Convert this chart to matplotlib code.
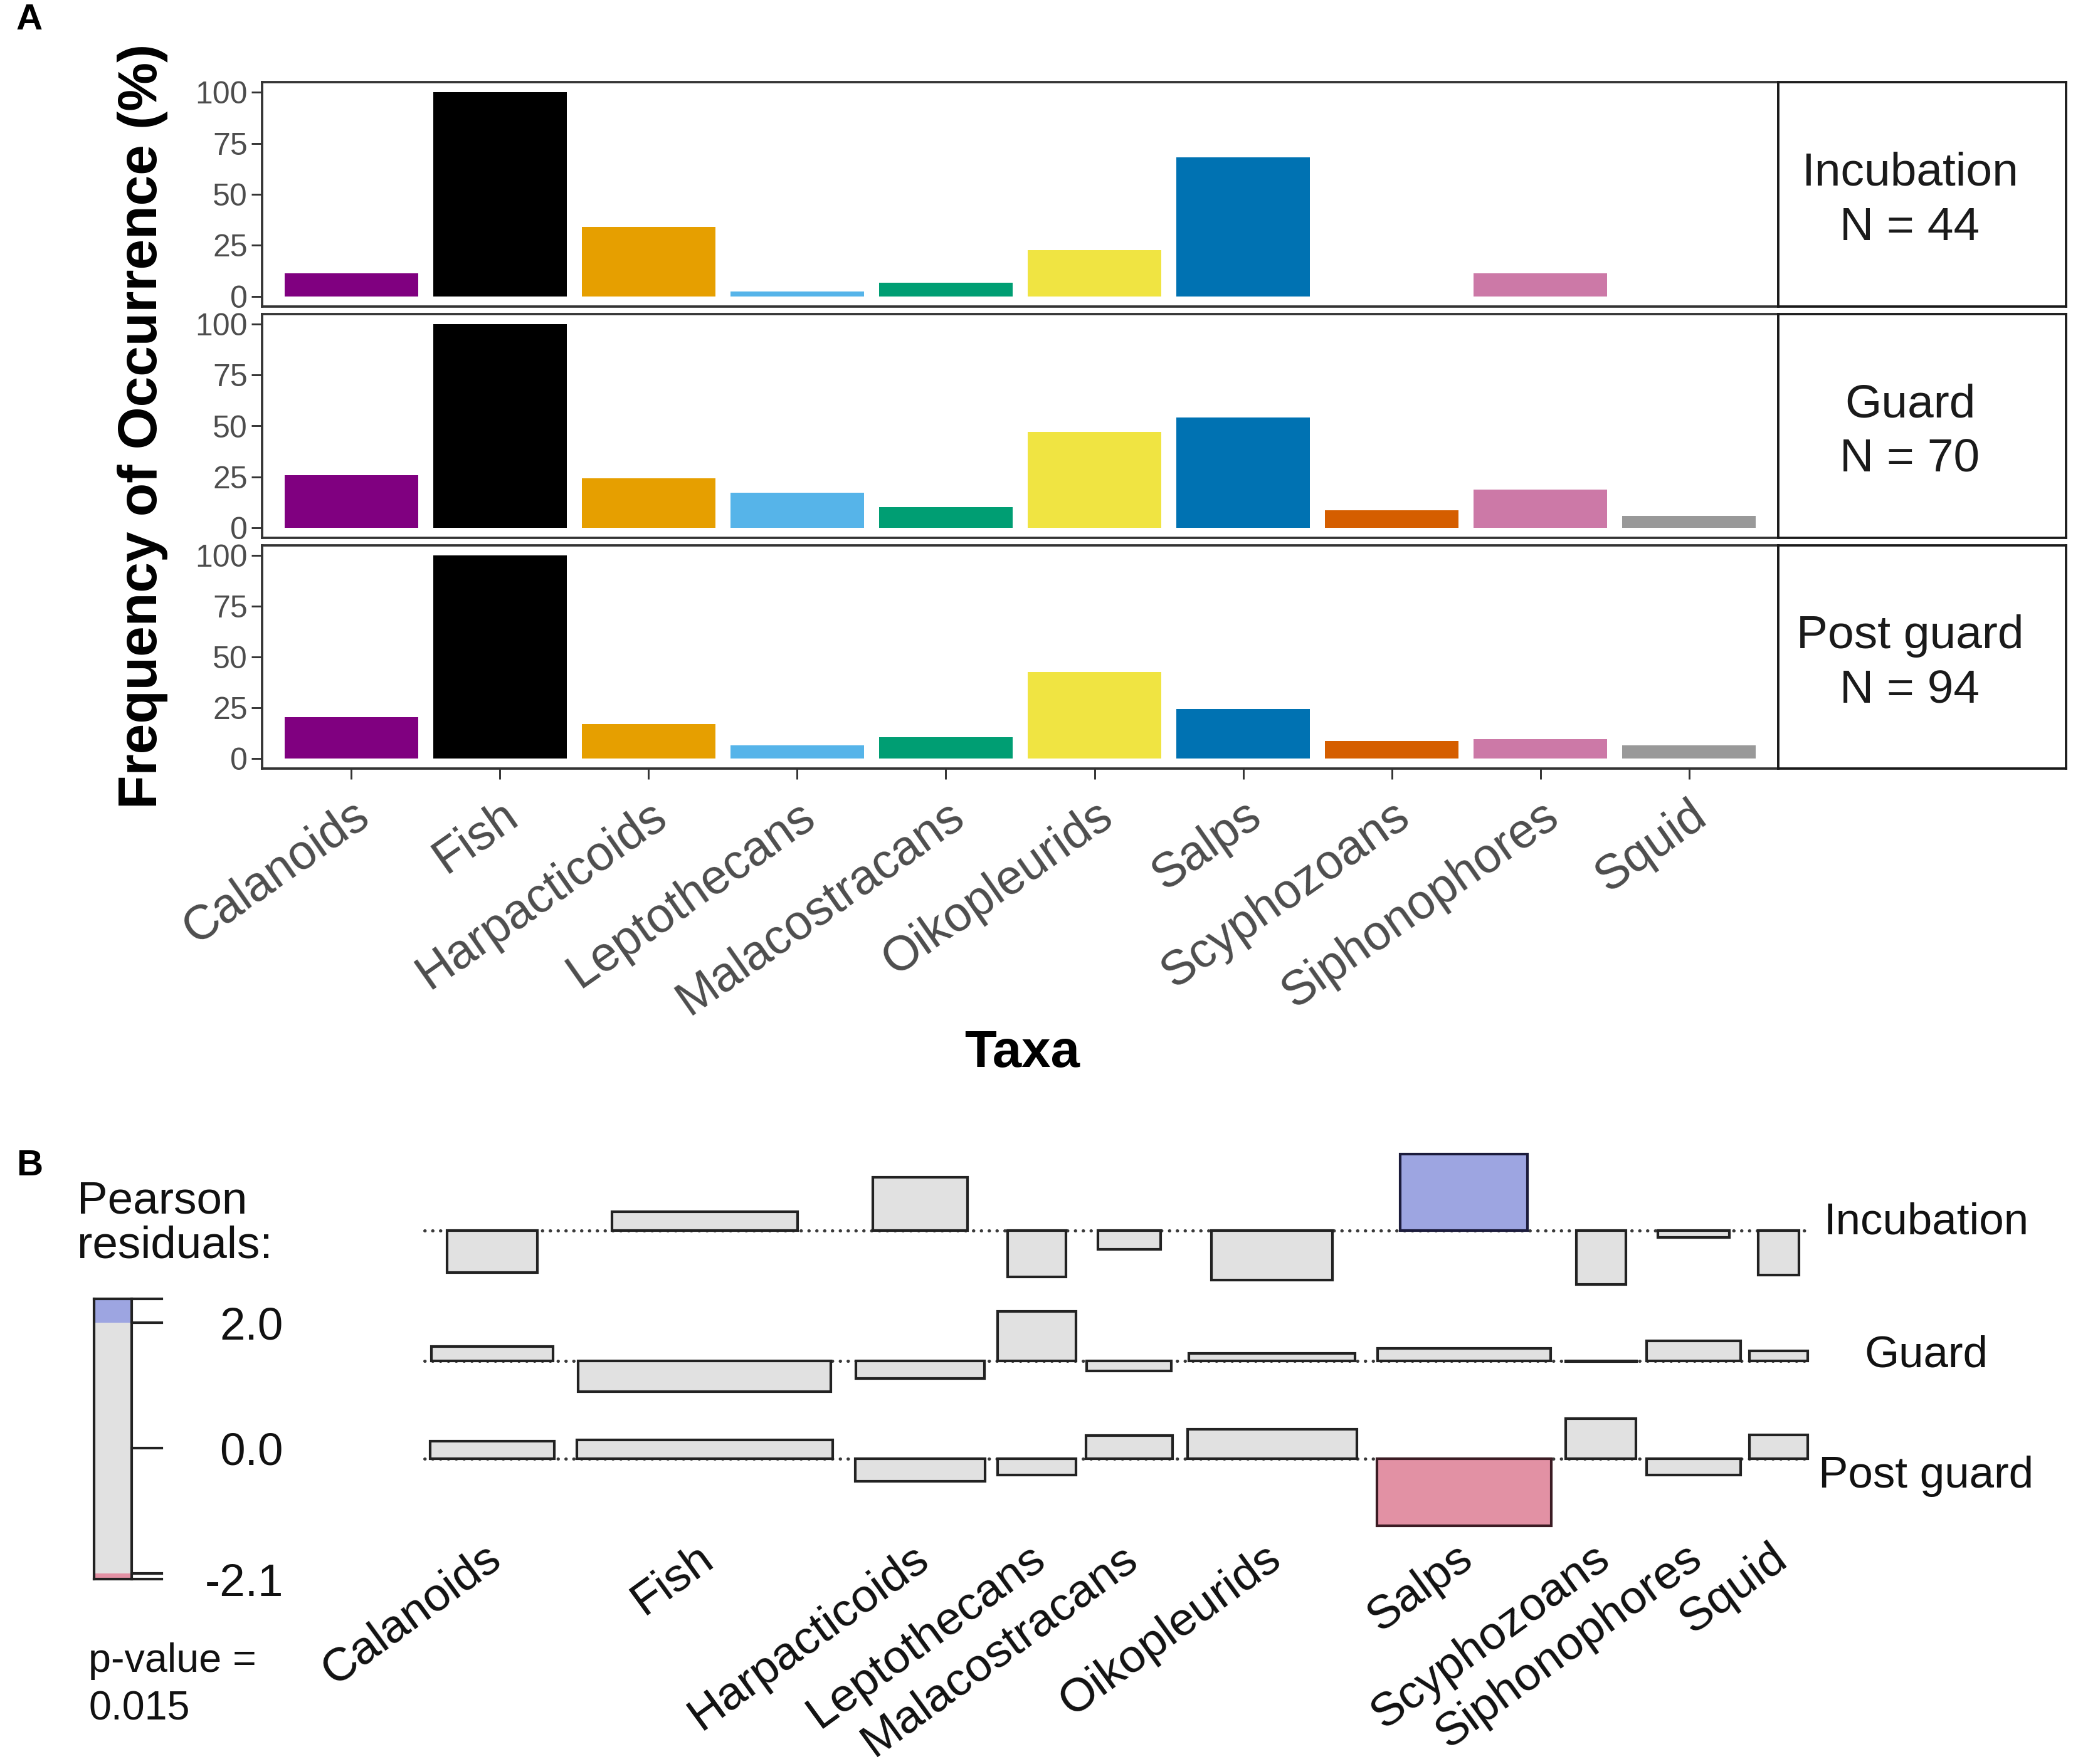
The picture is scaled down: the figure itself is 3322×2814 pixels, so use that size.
import matplotlib
matplotlib.use("Agg")
import matplotlib.pyplot as plt
import matplotlib.transforms as mtransforms
from matplotlib.patches import Rectangle

plt.rcParams['font.family'] = ['Liberation Sans', 'DejaVu Sans']

# ---------------- data ----------------
taxa = ["Calanoids", "Fish", "Harpacticoids", "Leptothecans", "Malacostracans",
        "Oikopleurids", "Salps", "Scyphozoans", "Siphonophores", "Squid"]
taxa_colors = ["#800080", "#000000", "#E69F00", "#56B4E9", "#009E73",
               "#F0E442", "#0072B2", "#D55E00", "#CC79A7", "#999999"]

stages = ["Incubation", "Guard", "Post guard"]
stage_n = [44, 70, 94]

foo_incubation = [11.4, 100, 34.1, 2.3, 6.8, 22.7, 68.2, 0, 11.4, 0]
foo_guard = [25.7, 100, 24.3, 17.1, 10.0, 47.1, 54.3, 8.6, 18.6, 5.7]
foo_post_guard = [20.2, 100, 17.0, 6.4, 10.6, 42.6, 24.5, 8.5, 9.6, 6.4]

yticks_a = [0, 25, 50, 75, 100]

# Pearson residuals (association plot)
res_incubation = [-1.31, 0.585, 1.66, -1.44, -0.585, -1.53, 2.38, -1.67, -0.22, -1.37]
res_guard = [0.45, -0.96, -0.55, 1.53, -0.31, 0.22, 0.38, -0.03, 0.61, 0.30]
res_post_guard = [0.54, 0.59, -0.70, -0.50, 0.72, 0.92, -2.09, 1.24, -0.50, 0.74]

# box widths (proportional to sqrt of expected counts)
wid_incubation = [84, 172, 88, 54, 58, 112, 118, 46, 66, 38]
wid_guard = [113, 234, 119, 73, 78, 154, 160, 66, 87, 54]
wid_post_guard = [115, 237, 120, 73, 80, 157, 161, 65, 87, 54]

legend_ticks = [2.0, 0.0]
legend_labels = ["2.0", "0.0"]
min_label = "-2.1"
p_value_text = ["p-value =", "0.015"]

# ---------------- figure ----------------
W, H = 3322, 2814
DPI = 300
fig = plt.figure(figsize=(W / DPI, H / DPI), dpi=DPI)


def box(x0, y0, x1, y1):
    return [x0 / W, 1 - y1 / H, (x1 - x0) / W, (y1 - y0) / H]


def px_offset(dx, dy):
    return mtransforms.ScaledTranslation(dx / DPI, -dy / DPI, fig.dpi_scale_trans)


grey30 = "#4D4D4D"
border = "#333333"

# ---------------- Panel A ----------------
panel_rows = [(131, 489), (501, 858), (870, 1226)]
series = [foo_incubation, foo_guard, foo_post_guard]
xpos = list(range(1, len(taxa) + 1))

for i, ((top, bot), vals) in enumerate(zip(panel_rows, series)):
    ax = fig.add_axes(box(418, top, 2836, bot))
    ax.bar(xpos, vals, width=0.9, color=taxa_colors, edgecolor="none")
    ax.set_xlim(0.4, 10.6)
    ax.set_ylim(-5, 105)
    ax.set_yticks(yticks_a)
    ax.set_yticklabels([str(v) for v in yticks_a], fontsize=12, color=grey30)
    ax.tick_params(axis="y", length=4.0, width=0.7, color=border, pad=1.5)
    for s in ax.spines.values():
        s.set_color(border)
        s.set_linewidth(0.9)
    if i < 2:
        ax.set_xticks([])
    else:
        ax.set_xticks(xpos)
        ax.set_xticklabels([])
        ax.tick_params(axis="x", length=4.0, width=0.7, color=border)
        tr = mtransforms.blended_transform_factory(ax.transData, ax.transAxes)
        for x, name in zip(xpos, taxa):
            ax.text(x, 0, name, transform=tr + px_offset(0, 38),
                    rotation=35, ha="right", va="top", rotation_mode="anchor",
                    fontsize=18.5, color=grey30)
    # strip
    sax = fig.add_axes(box(2836, top, 3295, bot))
    sax.set_xlim(2836, 3295)
    sax.set_xticks([])
    sax.set_yticks([])
    for s in sax.spines.values():
        s.set_color("#1A1A1A")
        s.set_linewidth(0.9)
    sax.text(3046, 0.5, f"{stages[i]}\nN = {stage_n[i]}", ha="center", va="center",
             fontsize=18, color="#1A1A1A",
             transform=mtransforms.blended_transform_factory(sax.transData, sax.transAxes)
             + px_offset(0, 10),
             linespacing=1.35)

fig.text(228 / W, 1 - 680 / H, "Frequency of Occurrence (%)", rotation=90,
         ha="center", va="center", fontsize=21, fontweight="bold")
fig.text(1630 / W, 1 - 1680 / H, "Taxa", ha="center", va="center",
         fontsize=20, fontweight="bold")
fig.text(26 / W, 1 - 32 / H, "A", ha="left", va="center", fontsize=14, fontweight="bold")
fig.text(26 / W, 1 - 1860 / H, "B", ha="left", va="center", fontsize=14, fontweight="bold")

# ---------------- Panel B (association plot) ----------------
residuals = [res_incubation, res_guard, res_post_guard]
widths = [wid_incubation, wid_guard, wid_post_guard]

pad_frac = 0.059
start_x = 50
col_w = [max(w[j] for w in widths) for j in range(len(taxa))]
centers = []
cx = start_x
for j, w in enumerate(col_w):
    if j > 0:
        cx += pad_frac * w
    centers.append(cx + w / 2)
    cx += w + pad_frac * w
end_x = cx - pad_frac * col_w[-1]

gap_y = 0.84
maxpos = [max(0, max(r)) for r in residuals]
maxneg = [max(0, -min(r)) for r in residuals]
baselines = [0.0] * 3
baselines[2] = 0.0
baselines[1] = baselines[2] + maxpos[2] + gap_y + maxneg[1]
baselines[0] = baselines[1] + maxpos[1] + gap_y + maxneg[0]

# axes mapping: px = 600 + x*1.722 ; py = 2327 - y*51.4
sx, sy = 1.722, 51.4
bx0, bx1 = 669, 2890
by0, by1 = 1823, 2456
axb = fig.add_axes(box(bx0, by0, bx1, by1))
axb.set_xlim((bx0 - 600) / sx, (bx1 - 600) / sx)
axb.set_ylim((2327 - by1) / sy, (2327 - by0) / sy)
axb.axis("off")

pos_fill, neg_fill, grey_fill = "#9DA5E1", "#E291A4", "#E1E1E1"
for r_i, (res, wid, base) in enumerate(zip(residuals, widths, baselines)):
    axb.plot([start_x - 5, end_x], [base, base], ls=(0, (0.1, 2.4)), color="#3A3A3A",
             lw=1.2, zorder=1, dash_capstyle="round")
    for j, (r, w) in enumerate(zip(res, wid)):
        if r >= 2:
            fc, ec = pos_fill, "#1C1C3C"
        elif r <= -2:
            fc, ec = neg_fill, "#3C1C24"
        else:
            fc, ec = grey_fill, "#222222"
        y0 = base if r >= 0 else base + r
        axb.add_patch(Rectangle((centers[j] - w / 2, y0), w, abs(r),
                                facecolor=fc, edgecolor=ec, lw=1.0, zorder=2))
    rc = base + (maxpos[r_i] - maxneg[r_i]) / 2
    axb.text((3072 - 600) / sx, rc, stages[r_i], ha="center", va="center",
             fontsize=17, color="#111111", clip_on=False,
             transform=axb.transData + px_offset(0, 6))

ylow = axb.get_ylim()[0]
for j, name in enumerate(taxa):
    axb.text(centers[j], ylow, name, transform=axb.transData + px_offset(-14, -6),
             rotation=36, ha="right", va="top", rotation_mode="anchor",
             fontsize=18, color="#111111")

# legend colour bar
rmax = max(max(r) for r in residuals)
rmin = min(min(r) for r in residuals)
lx0, lx1 = 150, 210
ly_top = 2310 - rmax * 100
ly_bot = 2310 - rmin * 100
lax = fig.add_axes(box(lx0, ly_top, lx1, ly_bot))
lax.set_xlim(0, 1)
lax.set_ylim(rmin, rmax)
lax.axhspan(2.0, rmax, color=pos_fill, lw=0)
lax.axhspan(-2.0, 2.0, color=grey_fill, lw=0)
lax.axhspan(rmin, -2.0, color=neg_fill, lw=0)
lax.set_xticks([])
lax.set_yticks([])
for s in lax.spines.values():
    s.set_color("#222222")
    s.set_linewidth(1.0)
tick_len = (258 - 210) / (lx1 - lx0)
for v in [rmax, 2.0, 0.0, -2.0, rmin]:
    lax.plot([1, 1 + tick_len], [v, v], color="#222222", lw=1.0, clip_on=False)
ltr = mtransforms.blended_transform_factory(fig.transFigure, lax.transData)
for v, lab in zip(legend_ticks, legend_labels):
    fig.text(452 / W, v, lab, transform=ltr + px_offset(0, 8), ha="right", va="center",
             fontsize=17.5, color="#111111")
fig.text(452 / W, rmin, min_label, transform=ltr + px_offset(0, 8), ha="right",
         va="center", fontsize=17.5, color="#111111")

fig.text(123 / W, 1 - 1917 / H, "Pearson", ha="left", va="center", fontsize=17.5,
         color="#111111")
fig.text(123 / W, 1 - 1988 / H, "residuals:", ha="left", va="center", fontsize=17.5,
         color="#111111")
fig.text(141 / W, 1 - 2650 / H, p_value_text[0], ha="left", va="center", fontsize=15.5,
         color="#111111")
fig.text(141 / W, 1 - 2726 / H, p_value_text[1], ha="left", va="center", fontsize=15.5,
         color="#111111")

fig.savefig("out.png", dpi=DPI, facecolor="white")
